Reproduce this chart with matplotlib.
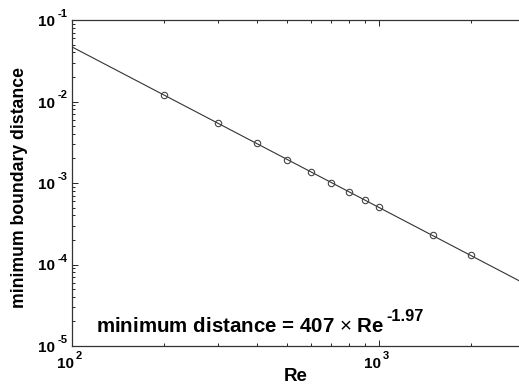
"""
Minimum boundary distance vs Reynolds number, log-log with power-law fit.
Saves out.png (519x390).
"""

import numpy as np
import matplotlib
matplotlib.use("Agg")
import matplotlib.pyplot as plt
from matplotlib.ticker import LogLocator, FixedLocator, NullFormatter
from matplotlib.transforms import offset_copy

# ── Data ──────────────────────────────────────────────────────────────────────
re_vals   = [200, 300, 400, 500, 600, 700, 800, 900, 1000, 1500, 2000]
min_dist  = [0.0120, 0.00545, 0.0031, 0.00191, 0.00136, 0.00100,
             0.00078, 0.00062, 0.00051, 0.00023, 0.000131]
fit_coef  = 407.0
fit_exp   = -1.97
x_ticks   = [1e2, 1e3]
x_exps    = ["2", "3"]
y_ticks   = [1e-5, 1e-4, 1e-3, 1e-2, 1e-1]
y_exps    = ["-5", "-4", "-3", "-2", "-1"]

plt.rcParams["font.family"] = ["Liberation Sans", "DejaVu Sans"]
plt.rcParams["mathtext.fontset"] = "custom"
plt.rcParams["mathtext.rm"] = "Liberation Sans"
plt.rcParams["mathtext.bf"] = "Liberation Sans:bold"

W, H = 519, 390
fig = plt.figure(figsize=(W / 100, H / 100), dpi=100)
# axes box runs a little past the right edge of the image, as in the source
ax = fig.add_axes([72 / W, (H - 346) / H, 453.5 / W, 326 / H])

re_line = np.logspace(2, np.log10(3000), 200)
ax.loglog(re_line, fit_coef * re_line ** fit_exp, color="#333333", lw=0.8)
ax.loglog(re_vals, min_dist, "o", ms=4.6, mfc="none", mec="#444444", mew=0.8)

ax.set_xlim(100, 3000)
ax.set_ylim(1e-5, 1e-1)

ax.xaxis.set_major_locator(FixedLocator(x_ticks))
ax.yaxis.set_major_locator(FixedLocator(y_ticks))
ax.xaxis.set_minor_locator(LogLocator(base=10, subs=np.arange(2, 10), numticks=20))
ax.yaxis.set_minor_locator(LogLocator(base=10, subs=np.arange(2, 10), numticks=20))
ax.xaxis.set_minor_formatter(NullFormatter())
ax.yaxis.set_minor_formatter(NullFormatter())

ax.tick_params(which="both", direction="in", top=True, right=True,
               width=0.6, labelbottom=False, labelleft=False)
ax.tick_params(which="major", length=4.5)
ax.tick_params(which="minor", length=2.5)
for s in ax.spines.values():
    s.set_linewidth(0.9)
    s.set_color("#333333")

# MATLAB-style "10^n" tick labels: big base, raised exponent
BASE_FS, EXP_FS = 11, 8
xt = ax.get_xaxis_transform()
for t, e in zip(x_ticks, x_exps):
    ax.text(t, 0, "10", fontsize=BASE_FS, fontweight="bold", ha="right", va="baseline",
            transform=offset_copy(xt, fig=fig, x=2, y=-22, units="dots"))
    ax.text(t, 0, e, fontsize=EXP_FS, fontweight="bold", ha="left", va="baseline",
            transform=offset_copy(xt, fig=fig, x=4, y=-13, units="dots"))
yt = ax.get_yaxis_transform()
for t, e in zip(y_ticks, y_exps):
    ax.text(0, t, "10", fontsize=BASE_FS, fontweight="bold", ha="right", va="baseline",
            transform=offset_copy(yt, fig=fig, x=-17, y=-6, units="dots"))
    ax.text(0, t, e, fontsize=EXP_FS, fontweight="bold", ha="left", va="baseline",
            transform=offset_copy(yt, fig=fig, x=-14, y=3, units="dots"))

ax.set_xlabel("Re", fontsize=13.5, fontweight="bold")
ax.xaxis.set_label_coords(0.493, -0.0675)
ax.set_ylabel("minimum boundary distance", fontsize=12.7, fontweight="bold")
ax.yaxis.set_label_coords(-0.097, 0.485)

# fit annotation: main text, then a larger-than-mathtext superscript after it
main = ax.text(120, 1.5e-5, "minimum distance = 407 $\\times$ Re",
               fontsize=14.8, fontweight="bold", ha="left", va="baseline")
fig.canvas.draw()
bb = main.get_window_extent()
ax.text(0, 0, f"{fit_exp:.2f}", fontsize=11.8, fontweight="bold",
        ha="left", va="baseline",
        transform=offset_copy(fig.dpi_scale_trans, fig=fig,
                              x=bb.x1 + 1.5, y=bb.y0 + 15, units="dots"))

fig.savefig("out.png", dpi=100)
